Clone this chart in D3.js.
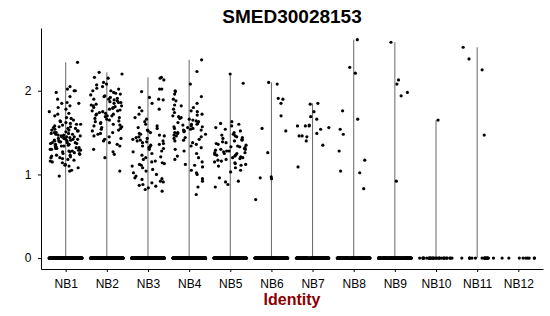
<!DOCTYPE html>
<html lang="en">
<head>
<meta charset="UTF-8">
<title>SMED30028153</title>
<script src="https://d3js.org/d3.v7.min.js"></script>
<style>
  body { margin: 0; background: #fff; }
  text { font-family: "Liberation Sans", Arial, sans-serif; }
</style>
</head>
<body>
<svg id="chart" width="550" height="316"></svg>
<script>
// categories and expression values
const groups = ["NB1", "NB2", "NB3", "NB4", "NB5", "NB6", "NB7", "NB8", "NB9", "NB10", "NB11", "NB12"];
const yTicks = [0, 1, 2];

// number of cells with zero expression per group (the dense band at 0)
const zeroCounts = [320, 320, 320, 320, 320, 220, 220, 220, 180, 30, 18, 9];

const nb1 = [2.34, 2.05, 2.02, 2.0, 2.0, 1.98, 1.93, 1.9, 1.86, 1.85, 1.85, 1.82, 1.8, 1.78, 1.75, 1.73, 1.72, 1.7, 1.68, 1.67, 1.65, 1.64, 1.63, 1.62, 1.61, 1.6, 1.6, 1.59, 1.58, 1.57, 1.57, 1.56, 1.55, 1.55, 1.54, 1.53, 1.53, 1.52, 1.52, 1.51, 1.5, 1.5, 1.49, 1.49, 1.48, 1.48, 1.47, 1.47, 1.46, 1.46, 1.45, 1.45, 1.45, 1.44, 1.44, 1.43, 1.43, 1.42, 1.42, 1.42, 1.41, 1.41, 1.4, 1.4, 1.4, 1.39, 1.39, 1.38, 1.38, 1.38, 1.37, 1.37, 1.36, 1.36, 1.35, 1.35, 1.34, 1.34, 1.33, 1.33, 1.32, 1.32, 1.31, 1.31, 1.3, 1.3, 1.29, 1.29, 1.28, 1.28, 1.27, 1.27, 1.26, 1.25, 1.25, 1.24, 1.23, 1.23, 1.22, 1.21, 1.2, 1.2, 1.19, 1.18, 1.17, 1.16, 1.15, 1.14, 1.12, 1.11, 1.1, 1.08, 1.05, 1.04, 0.98];
const nb2 = [2.22, 2.2, 2.16, 2.15, 2.1, 2.08, 2.07, 2.05, 2.03, 2.02, 2.0, 2.0, 1.98, 1.97, 1.96, 1.95, 1.94, 1.93, 1.92, 1.91, 1.9, 1.9, 1.89, 1.88, 1.87, 1.86, 1.86, 1.85, 1.84, 1.83, 1.82, 1.82, 1.81, 1.8, 1.8, 1.79, 1.78, 1.77, 1.76, 1.76, 1.75, 1.74, 1.73, 1.72, 1.72, 1.71, 1.7, 1.7, 1.69, 1.68, 1.67, 1.66, 1.65, 1.64, 1.63, 1.62, 1.61, 1.6, 1.59, 1.58, 1.57, 1.56, 1.55, 1.54, 1.53, 1.52, 1.5, 1.49, 1.48, 1.46, 1.45, 1.43, 1.42, 1.4, 1.38, 1.36, 1.34, 1.3, 1.27, 1.24, 1.2, 1.04];
const nb3 = [2.16, 2.15, 2.13, 2.02, 2.02, 1.99, 1.92, 1.9, 1.89, 1.85, 1.8, 1.78, 1.76, 1.72, 1.68, 1.66, 1.63, 1.6, 1.58, 1.56, 1.55, 1.53, 1.52, 1.5, 1.49, 1.48, 1.47, 1.46, 1.45, 1.44, 1.43, 1.42, 1.41, 1.4, 1.4, 1.39, 1.38, 1.37, 1.36, 1.35, 1.34, 1.33, 1.32, 1.31, 1.3, 1.28, 1.27, 1.25, 1.23, 1.21, 1.2, 1.18, 1.16, 1.15, 1.14, 1.13, 1.12, 1.11, 1.1, 1.08, 1.06, 1.04, 1.02, 1.0, 0.98, 0.96, 0.95, 0.94, 0.92, 0.91, 0.9, 0.88, 0.87, 0.86, 0.84, 0.82, 0.8];
const nb4 = [2.37, 2.23, 2.08, 2.0, 1.99, 1.96, 1.93, 1.9, 1.88, 1.85, 1.83, 1.82, 1.8, 1.78, 1.76, 1.75, 1.74, 1.72, 1.71, 1.7, 1.69, 1.68, 1.67, 1.66, 1.65, 1.64, 1.63, 1.62, 1.61, 1.6, 1.6, 1.59, 1.58, 1.57, 1.57, 1.56, 1.55, 1.55, 1.54, 1.53, 1.53, 1.52, 1.51, 1.5, 1.5, 1.49, 1.48, 1.47, 1.46, 1.45, 1.44, 1.43, 1.42, 1.41, 1.4, 1.38, 1.36, 1.34, 1.32, 1.3, 1.28, 1.25, 1.22, 1.2, 1.18, 1.15, 1.12, 1.11, 1.09, 1.05, 1.02, 1.0, 0.95, 0.92, 0.85, 0.76];
const nb5 = [2.2, 2.09, 1.63, 1.61, 1.6, 1.58, 1.56, 1.54, 1.52, 1.5, 1.48, 1.47, 1.46, 1.45, 1.44, 1.43, 1.42, 1.41, 1.4, 1.39, 1.38, 1.37, 1.36, 1.35, 1.34, 1.33, 1.33, 1.32, 1.31, 1.3, 1.3, 1.29, 1.28, 1.28, 1.27, 1.26, 1.26, 1.25, 1.25, 1.24, 1.23, 1.23, 1.22, 1.21, 1.2, 1.2, 1.19, 1.18, 1.17, 1.16, 1.15, 1.14, 1.13, 1.12, 1.11, 1.1, 1.08, 1.05, 1.03, 0.96, 0.92, 0.91, 0.88, 0.85];
const nb6 = [2.1, 2.08, 1.9, 1.91, 1.85, 1.7, 1.52, 1.55, 1.26, 0.97, 0.95, 0.96, 0.7];
const nb7 = [1.84, 1.85, 1.75, 1.69, 1.66, 1.59, 1.56, 1.58, 1.58, 1.58, 1.54, 1.46, 1.46, 1.45, 1.49, 1.4, 1.35, 1.09];
const nb8 = [2.61, 2.28, 2.21, 1.76, 1.66, 1.54, 1.48, 1.28, 1.17, 1.02, 1.04, 0.83];
const nb9 = [2.58, 2.13, 2.08, 1.98, 1.94, 0.92];
const nb10 = [1.65];
const nb11 = [2.52, 2.38, 2.25, 1.47];
const nb12 = [];
const values = [nb1, nb2, nb3, nb4, nb5, nb6, nb7, nb8, nb9, nb10, nb11, nb12];

const svg = d3.select("#chart");
const plotLeft = 41, plotRight = 543, plotTop = 28, plotBottom = 269;

const x = d3.scaleLinear().domain([0.4, groups.length + 0.6]).range([plotLeft, plotRight]);
const y = d3.scaleLinear().domain([-0.13, 2.75]).range([plotBottom, plotTop]);

// sideways spread like geom_jitter (width 0.4); a fixed hash so it is the same every run
function jitter(i, g) {
  const s = Math.sin(i * 12.9898 + g * 78.233) * 43758.5453;
  return (s - Math.floor(s)) * 0.8 - 0.4;
}

// violin outlines collapse to a thin line from 0 to the max
svg.append("g").selectAll("line")
  .data(groups.map((g, i) => ({ i, max: d3.max(values[i]) })).filter(d => d.max !== undefined))
  .join("line")
  .attr("x1", d => x(d.i + 1)).attr("x2", d => x(d.i + 1))
  .attr("y1", y(0)).attr("y2", d => y(d.max))
  .attr("stroke", "#666").attr("stroke-width", 1);

// points: zeros then expressed cells
const pts = [];
groups.forEach((g, gi) => {
  for (let k = 0; k < zeroCounts[gi]; k++) pts.push({ gi, v: 0, j: jitter(k, gi) });
  values[gi].forEach((v, k) => pts.push({ gi, v, j: jitter(k + 500, gi + 17) }));
});

svg.append("g").selectAll("circle")
  .data(pts)
  .join("circle")
  .attr("cx", d => x(d.gi + 1 + d.j))
  .attr("cy", d => y(d.v))
  .attr("r", 1.6)
  .attr("fill", "#000");

// axes
const xAxis = svg.append("g")
  .attr("transform", `translate(0,${plotBottom})`)
  .call(d3.axisBottom(x).tickValues(d3.range(1, groups.length + 1)).tickFormat(d => groups[d - 1]).tickSize(3).tickSizeOuter(0));
const yAxis = svg.append("g")
  .attr("transform", `translate(${plotLeft},0)`)
  .call(d3.axisLeft(y).tickValues(yTicks).tickFormat(d3.format("d")).tickSize(3).tickSizeOuter(0));

[xAxis, yAxis].forEach(a => {
  a.select(".domain").attr("stroke", "#000").attr("stroke-width", 1);
  a.selectAll(".tick line").attr("stroke", "#000");
  a.selectAll("text").attr("fill", "#000").style("font-size", "12px").style("font-family", "Liberation Sans, Arial, sans-serif");
});
xAxis.selectAll("text").attr("dy", "1.05em");
yAxis.selectAll("text").attr("dx", "-0.3em");

// titles
svg.append("text")
  .attr("x", (plotLeft + plotRight) / 2).attr("y", 23)
  .attr("text-anchor", "middle")
  .style("font-size", "19px").style("font-weight", "bold")
  .text("SMED30028153");

svg.append("text")
  .attr("x", (plotLeft + plotRight) / 2).attr("y", 305)
  .attr("text-anchor", "middle")
  .style("font-size", "16px").style("font-weight", "bold")
  .attr("fill", "#8B0000")
  .text("Identity");
</script>
</body>
</html>
